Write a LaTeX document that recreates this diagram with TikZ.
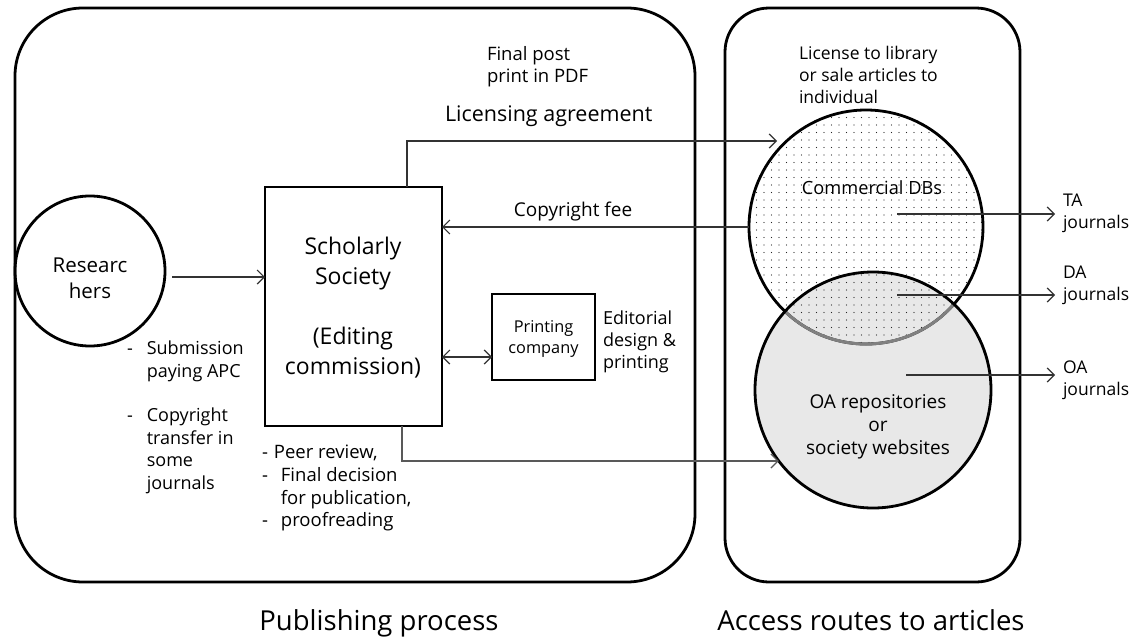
\documentclass[tikz,border=0pt]{standalone}
\usepackage{fontspec}
\setmainfont{Open Sans}
\usetikzlibrary{arrows.meta,calc}
\newcommand{\fs}[2]{\fontsize{#1}{#2}\selectfont}
\begin{document}
\begin{tikzpicture}[x=1pt,y=-1pt,
  frame/.style={draw=black, line width=2.8pt},
  boxs/.style={draw=black, line width=2.8pt, inner sep=0pt, outer sep=0pt},
  conn/.style={draw=black!80, line width=1.2pt, -{Straight Barb[length=7pt,width=14pt,line width=1.2pt]}},
  dconn/.style={draw=black!80, line width=1.2pt, {Straight Barb[length=7pt,width=14pt,line width=1.2pt]}-{Straight Barb[length=7pt,width=14pt,line width=1.2pt]}},
  lbl/.style={inner sep=0pt, outer sep=0pt, align=left, anchor=north west},
  clbl/.style={inner sep=0pt, outer sep=0pt, align=center},
]
\useasboundingbox (0,0) rectangle (1138,640);

% frames
\draw[frame, rounded corners=68pt] (15,8) rectangle (695,582);
\draw[frame, rounded corners=44pt] (725,8) rectangle (1020,582);

% circles for access routes
\coordinate (cdbc) at (866,227);
\coordinate (oac) at (873,390);
\fill[black!9] (oac) circle (118);
\begin{scope}
  \clip (cdbc) circle (117);
  \foreach \i in {0,...,32}{
    \foreach \j in {0,...,32}{
      \fill[black!85] ({749+\i*7.5},{110+\j*7.5}) circle (0.7);
    }
  }
\end{scope}
\node[circle, draw=black, line width=2.8pt, minimum size=234pt, inner sep=0pt, outer sep=0pt] (cdb) at (cdbc) {};
\begin{scope}
  \clip (oac) circle (118);
  \draw[black!50, line width=3pt] (cdbc) circle (117);
\end{scope}
\node[circle, draw=black, line width=2.8pt, minimum size=236pt, inner sep=0pt, outer sep=0pt] (oa) at (oac) {};

% researchers
\node[circle, draw=black, line width=2.8pt, minimum size=150pt, inner sep=0pt, outer sep=0pt] (res) at (90,271) {};
\node[clbl, font=\fs{20.5}{26}] (restext) at (90,278) {Researc\\hers};

% scholarly society
\node[boxs, minimum width=177pt, minimum height=239pt] (soc) at (353.5,306.5) {};
\node[clbl, font=\fs{23}{30}] (soctext) at (353,308) {Scholarly\\Society\\[30pt](Editing\\commission)};

% printing company
\node[boxs, minimum width=103pt, minimum height=86pt] (pc) at (543.5,337) {};
\node[clbl, font=\fs{16.3}{21}] (pctext) at (543.5,339) {Printing\\company};

% connectors
\coordinate (resout) at (172,277);
\draw[conn] (resout) -- (soc.west |- resout);

\coordinate (licstart) at (407,187);
\coordinate (licend) at ($(cdbc)+(-89,-86)$);
\draw[conn] (licstart) |- (licend);

\coordinate (cfstart) at (cdb.west);
\draw[conn] (cfstart) -- (soc.east |- cfstart);

\coordinate (pcy) at (0,357);
\draw[dconn] (soc.east |- pcy) -- (pc.west |- pcy);

\coordinate (botstart) at (402,426);
\draw[conn, draw=black!65] (botstart) |- (oa.217);

\coordinate (tastart) at ($(cdbc)+(31,-13)$);
\coordinate (taend) at (1055,214);
\draw[conn] (tastart) -- (taend);
\coordinate (dastart) at ($(cdbc)+(31,68)$);
\coordinate (daend) at (1055,295);
\draw[conn] (dastart) -- (daend);
\coordinate (oastart) at ($(oac)+(33,-15)$);
\coordinate (oaend) at (1055,375);
\draw[conn] (oastart) -- (oaend);

% labels
\node[lbl, font=\fs{18.5}{22}] (fpp) at (487,46.5) {Final post\\print in PDF};
\node[lbl, font=\fs{21.5}{26}, anchor=base west] (lic) at (445,121) {Licensing agreement};
\node[clbl, font=\fs{19}{23}, anchor=base] (cf) at (573,216) {Copyright fee};
\node[lbl, font=\fs{17.5}{22}] (lib) at (799,46) {License to library\\or sale articles to\\individual};
\node[clbl, font=\fs{18.2}{22}, anchor=base] (cdbtext) at (872,194) {Commercial DBs};
\node[clbl, font=\fs{19}{23}] (oatext) at (878,427) {OA repositories\\or\\society websites};

\node[lbl, font=\fs{17.5}{21.5}] (ta) at (1063,194) {TA\\journals};
\node[lbl, font=\fs{17.5}{21.5}] (da) at (1063,266) {DA\\journals};
\node[lbl, font=\fs{17.5}{21.5}] (oaj) at (1063,361) {OA\\journals};

\node[lbl, font=\fs{18}{22}] (edit) at (603,311) {Editorial\\design \&\\printing};

\node[lbl, font=\fs{18}{22.5}] (sub) at (127,339) {%
\begin{tabular}{@{}l@{\hspace{14pt}}l@{}}
- & Submission\\
  & paying APC\\[22pt]
- & Copyright\\
  & transfer in\\
  & some\\
  & journals
\end{tabular}};

\node[lbl, font=\fs{18.5}{22.7}] (peer) at (262,443) {%
\begin{tabular}{@{}l@{\hspace{13pt}}l@{}}
\multicolumn{2}{@{}l@{}}{-\hspace{6pt}Peer review,}\\
- & Final decision\\
  & for publication,\\
- & proofreading
\end{tabular}};

\node[clbl, font=\fs{27.5}{32}, anchor=base] (pubproc) at (379,630) {Publishing process};
\node[clbl, font=\fs{27.5}{32}, anchor=base] (access) at (871,630) {Access routes to articles};
\end{tikzpicture}
\end{document}
